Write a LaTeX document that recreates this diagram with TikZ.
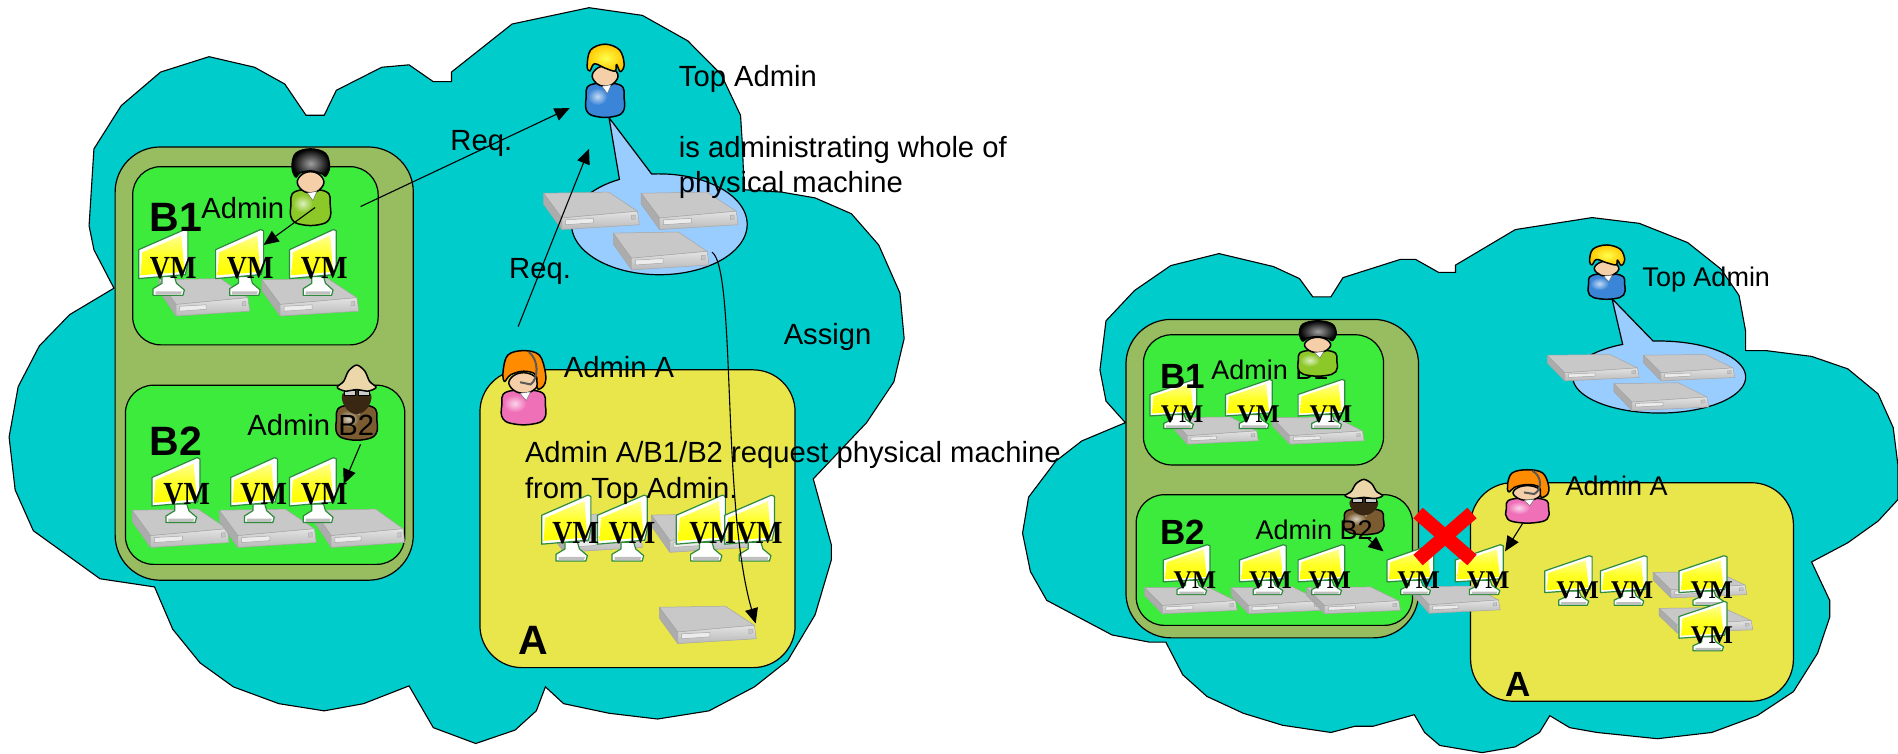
\documentclass[tikz,border=0pt]{standalone}
\usepackage{fontspec}
\setmainfont{Liberation Sans}
\newfontfamily\vmfont{Liberation Serif}
\usetikzlibrary{arrows.meta}
\definecolor{cloudc}{HTML}{00CCCC}
\definecolor{olivec}{HTML}{97BD60}
\definecolor{greenc}{HTML}{3CEB3C}
\definecolor{yellowc}{HTML}{E8E64A}
\definecolor{bluec}{HTML}{99CCFF}
\definecolor{srvtop}{HTML}{C8C8C8}
\definecolor{skinc}{HTML}{F5CFA8}
\definecolor{bodyblue}{HTML}{3A85D8}
\definecolor{bodygreen}{HTML}{8CC828}
\definecolor{bodybrown}{HTML}{7A5C30}
\definecolor{bodypink}{HTML}{F070B8}
\definecolor{frameg}{HTML}{2E8B3C}
\tikzset{
  cloudshape/.style={draw=black,line width=1.1pt,fill=cloudc},
  boxolive/.style={draw=black,line width=1.2pt,fill=olivec,rounded corners=45pt},
  boxgreen/.style={draw=black,line width=1.2pt,fill=greenc,rounded corners=28pt},
  boxyellow/.style={draw=black,line width=1.2pt,fill=yellowc,rounded corners=42pt},
  callout/.style={draw=black,line width=1.2pt,fill=bluec},
  conn/.style={draw=black,line width=1.1pt,-{Triangle[length=15pt,width=13pt]}},
  lab/.style={anchor=base west,inner sep=0pt,font=\fontsize{29.2}{30}\selectfont},
  labr/.style={anchor=base west,inner sep=0pt,font=\fontsize{27}{28}\selectfont},
  bigl/.style={anchor=base west,inner sep=0pt,font=\fontsize{41}{43}\selectfont\bfseries},
  bigr/.style={anchor=base west,inner sep=0pt,font=\fontsize{35}{37}\selectfont\bfseries},
  vml/.style={inner sep=0pt,font=\fontsize{28}{30}\selectfont\vmfont\bfseries,transform shape,yscale=1.15},
  vmr/.style={inner sep=0pt,font=\fontsize{25.5}{28}\selectfont\vmfont\bfseries,transform shape},
  outl/.style={draw=black,line width=1.5pt,line join=round},
}
% server: x y w h
\newcommand{\srv}[4]{\begin{scope}[shift={(#1,#2)},xscale=#3,yscale=#4]
  \fill[gray!65] (0,.03)--(.19,.69)--(.19,1)--(0,.32)--cycle;
  \draw[gray!70,line width=.5pt,fill=srvtop] (0,.03)--(.68,0)--(.98,.51)--(.19,.69)--cycle;
  \shade[top color=gray!22,bottom color=gray!55] (.19,.69)--(.98,.51)--(1,.87)--(.19,1)--cycle;
  \draw[gray!70,line width=.5pt] (0,.03)--(.19,.69)--(.19,1)--(1,.87)--(.98,.51)--(.19,.69) (0,.03)--(0,.32)--(.19,1);
  \draw[gray!70,line width=.5pt,fill=gray!15] (.23,.74)--(.52,.70)--(.52,.82)--(.23,.87)--cycle;
  \draw[gray!70,line width=.4pt,fill=gray!45] (.92,.62)--(.96,.61)--(.96,.72)--(.92,.73)--cycle;
\end{scope}}
% monitor: x y w h
\newcommand{\mon}[4]{\begin{scope}[shift={(#1,#2)},xscale=#3,yscale=#4]
  \draw[frameg,line width=1.2pt,fill=white,line join=round] (.48,.72)--(.73,.72)--(.77,.82)--(.93,.92)--(.9,1)--(.3,1)--(.3,.90)--(.48,.82)--cycle;
  \fill[gray!50] (.35,.94)--(.88,.94)--(.86,.99)--(.35,.99)--cycle;
  \draw[frameg,line width=1.2pt,fill=white,line join=round] (.01,.32)--(.94,.02)--(1,.04)--(1,.53)--(.95,.69)--(.01,.75)--cycle;
  \shade[top color=white!55!yellow,bottom color=yellow,middle color=yellow!85!white] (.08,.36)--(.87,.11)--(.93,.65)--(.05,.70)--cycle;
\end{scope}}
% person: x y w h bodycolour headgear
\newcommand{\person}[6]{\begin{scope}[shift={(#1,#2)},xscale=#3,yscale=#4]
  \draw[outl,fill=#5] plot[smooth cycle,tension=.7] coordinates {(.12,.56) (0,.75) (.03,.93) (.3,1) (.7,1) (.97,.93) (1,.75) (.88,.56)};
  \shade[inner color=white!70!#5,outer color=#5] (.3,.72) circle [x radius=.26,y radius=.12];
  \draw[outl,fill=skinc] plot[smooth cycle,tension=.8] coordinates {(.2,.38) (.22,.51) (.5,.58) (.78,.51) (.8,.38) (.5,.3)};
  \fill[white,draw=black!60,line width=.4pt] (.42,.58)--(.66,.56)--(.56,.68)--cycle;
  #6
\end{scope}}
\newcommand{\hairyel}{\draw[outl,inner color=yellow!70!white,outer color=orange!45!yellow] plot[smooth cycle,tension=.6] coordinates {(.03,.30) (.12,.08) (.5,0) (.88,.08) (1,.28) (.9,.38) (.8,.28) (.76,.37) (.5,.33) (.22,.27) (.1,.37)};}
\newcommand{\hairblk}{\draw[outl,inner color=gray!75,outer color=black] plot[smooth cycle,tension=.6] coordinates {(.03,.24) (.12,.06) (.5,0) (.88,.06) (.98,.24) (.88,.36) (.8,.33) (.5,.29) (.22,.32) (.12,.37)};}
\newcommand{\hairhat}{\fill[black!70!brown] plot[smooth cycle,tension=.7] coordinates {(.2,.36) (.2,.55) (.5,.66) (.8,.55) (.8,.36)};
  \fill[gray!40,draw=black,line width=.4pt] (.2,.34) rectangle (.46,.41) (.54,.34) rectangle (.82,.41);
  \draw[outl,fill=brown!35!white!90!yellow] plot[smooth cycle,tension=.5] coordinates {(.3,.08) (.5,0) (.7,.08) (.82,.22) (.98,.30) (.78,.35) (.5,.33) (.22,.35) (.02,.30) (.18,.22)};}
\newcommand{\hairorg}{\draw[outl,fill=orange!90!yellow] plot[smooth cycle,tension=.6] coordinates {(.03,.28) (.14,.06) (.5,0) (.86,.06) (1,.30) (.98,.46) (.82,.52) (.78,.33) (.5,.28) (.2,.33) (.06,.42)};
  \draw[gray!70!black,line width=2pt] (.62,.02) .. controls (.85,.12) and (.85,.38) .. (.66,.46) -- (.42,.43);}
\begin{document}
\begin{tikzpicture}[x=1pt,y=-1pt]
\useasboundingbox (0,0) rectangle (1898,753);
% ===== LEFT =====
\begin{scope}[x=.606pt,y=-.4803pt]
\draw[cloudshape] (972,16)--(1060,32)--(1135,85)--(1190,155)--(1222,240)--(1225,300)--(1228,395)--(1290,400)--(1345,412)--(1405,445)--(1450,510)--(1485,610)--(1492,705)--(1475,795)--(1430,880)--(1342,997)--(1372,1135)--(1372,1165)--(1345,1280)--(1300,1375)--(1245,1430)--(1170,1480)--(1085,1497)--(1005,1485)--(930,1465)--(900,1430)--(885,1480)--(850,1520)--(785,1548)--(715,1515)--(675,1428)--(600,1465)--(535,1480)--(460,1465)--(385,1430)--(330,1380)--(285,1310)--(255,1222)--(165,1205)--(55,1105)--(25,1020)--(15,910)--(30,805)--(65,720)--(115,655)--(188,600)--(155,520)--(147,470)--(155,310)--(200,220)--(265,150)--(345,118)--(420,140)--(470,175)--(505,240)--(535,240)--(555,188)--(630,140)--(675,135)--(715,170)--(745,170)--(745,150)--(845,50)--cycle;
\draw[boxolive] (190,306) rectangle (682,1208);
\draw[boxgreen] (219,347) rectangle (624,718);
\draw[boxgreen] (207,802) rectangle (668,1175);
\draw[boxyellow] (792,770) rectangle (1312,1390);
\draw[callout] (1005,245) -- plot[domain=95:-243,samples=90] ({1088+145*cos(\x)},{467-105*sin(\x)}) -- cycle;
% servers
\srv{897}{400}{158}{78}\srv{1058}{400}{160}{78}\srv{1012}{483}{158}{79}
\srv{262}{580}{150}{78}\srv{432}{580}{160}{78}
\srv{218}{1060}{160}{80}\srv{362}{1060}{160}{80}\srv{518}{1060}{150}{80}
\srv{900}{1070}{160}{80}\srv{1075}{1070}{160}{80}
\srv{1088}{1262}{160}{78}
% monitors
\mon{228}{475}{82}{140}\mon{355}{475}{80}{140}\mon{477}{475}{78}{140}
\mon{250}{950}{80}{138}\mon{380}{950}{78}{138}\mon{477}{950}{78}{138}
\mon{893}{1028}{82}{140}\mon{985}{1028}{83}{140}\mon{1115}{1028}{82}{140}\mon{1195}{1028}{83}{140}
% VM labels
\node[vml] (lvm1) at (286,558) {VM};\node[vml] (lvm2) at (413,558) {VM};\node[vml] (lvm3) at (535,558) {VM};
\node[vml] (lvm4) at (308,1028) {VM};\node[vml] (lvm5) at (435,1028) {VM};\node[vml] (lvm6) at (535,1028) {VM};
\node[vml] (lvm7) at (950,1110) {VM};\node[vml] (lvm8) at (1043,1110) {VM};\node[vml] (lvm9) at (1176,1110) {VM};\node[vml] (lvm10) at (1253,1110) {VM};
% people
\person{967}{92}{63}{151}{bodyblue}{\hairyel}
\person{480}{310}{65}{158}{bodygreen}{\hairblk}
\person{555}{760}{67}{155}{bodybrown}{\hairhat}
\person{828}{730}{72}{153}{bodypink}{\hairorg}
% text
\node[lab] (ltop) at (1120,180) {Top Admin};
\node[lab] (lis) at (1120,327) {is administrating whole of};
\node[lab] (lphy) at (1120,400) {physical machine};
\node[lab] (lreq1) at (743,313) {Req.};
\node[lab] (lreq2) at (840,580) {Req.};
\node[lab] (lassign) at (1293,718) {Assign};
\node[lab] (ladmA) at (930,785) {Admin A};
\node[lab] (lreqa) at (866,963) {Admin A/B1/B2 request physical machine};
\node[lab] (lreqb) at (866,1037) {from Top Admin.};
\node[lab] (ladmB1) at (332,455) {Admin};
\node[lab] (ladmB2) at (408,907) {Admin B2};
\node[bigl] (lB1) at (247,482) {B1};
\node[bigl] (lB2) at (247,948) {B2};
\node[bigl] (lA) at (855,1363) {A};
% connectors
\coordinate (lc1) at (595,430);\coordinate (lc2) at (940,225);
\coordinate (lc3) at (855,680);\coordinate (lc4) at (972,310);
\coordinate (lc5) at (520,432);\coordinate (lc6) at (435,510);
\coordinate (lc7) at (595,925);\coordinate (lc8) at (567,1008);
\coordinate (lc9) at (1175,525);\coordinate (lc10) at (1247,1298);
\draw[conn] (lc1)--(lc2);
\draw[conn] (lc3)--(lc4);
\draw[conn] (lc5)--(lc6);
\draw[conn] (lc7)--(lc8);
\draw[conn] (lc9) .. controls (1215,560) and (1190,1050) .. (lc10);
\end{scope}
% ===== RIGHT =====
\begin{scope}[shift={(950,0)},x=.6046pt,y=-.4803pt]
\draw[cloudshape] (1062,453)--(1140,465)--(1220,505)--(1275,560)--(1305,615)--(1316,690)--(1316,730)--(1350,730)--(1425,742)--(1485,768)--(1535,820)--(1560,890)--(1568,970)--(1568,1040)--(1535,1085)--(1485,1130)--(1425,1170)--(1455,1250)--(1455,1285)--(1435,1360)--(1395,1440)--(1335,1490)--(1260,1525)--(1170,1538)--(1070,1525)--(1025,1515)--(992,1490)--(975,1525)--(935,1555)--(880,1567)--(810,1552)--(785,1525)--(768,1488)--(700,1512)--(670,1512)--(630,1525)--(550,1510)--(485,1485)--(425,1450)--(385,1405)--(357,1337)--(330,1337)--(268,1322)--(160,1250)--(133,1190)--(120,1110)--(130,1035)--(175,960)--(218,918)--(290,880)--(258,835)--(248,770)--(258,668)--(305,605)--(365,553)--(445,528)--(535,555)--(578,580)--(600,618)--(630,618)--(650,578)--(745,540)--(770,540)--(808,567)--(836,567)--(836,552)--(935,478)--cycle;
\draw[boxolive] (291,665) rectangle (775,1328);
\draw[boxgreen] (320,697) rectangle (717,968);
\draw[boxgreen] (308,1030) rectangle (765,1302);
\draw[boxyellow] (861,1005) rectangle (1395,1460);
\draw[callout] (1095,622) -- plot[domain=94:-245,samples=90] ({1173+143*cos(\x)},{785-75*sin(\x)}) -- cycle;
% servers
\srv{988}{738}{152}{55}\srv{1147}{738}{151}{55}\srv{1098}{797}{157}{58}
\srv{365}{868}{145}{57}\srv{533}{868}{152}{57}
\srv{322}{1222}{153}{56}\srv{465}{1222}{150}{56}\srv{590}{1222}{155}{56}
\srv{765}{1220}{145}{57}
\srv{1163}{1190}{155}{55}\srv{1173}{1265}{155}{53}
% monitors
\mon{330}{788}{78}{104}\mon{455}{788}{78}{104}\mon{575}{788}{78}{104}
\mon{352}{1132}{78}{106}\mon{478}{1132}{78}{106}\mon{575}{1132}{78}{106}
\mon{722}{1132}{78}{106}\mon{835}{1132}{80}{106}
\mon{983}{1155}{79}{105}\mon{1075}{1155}{78}{105}\mon{1205}{1155}{80}{105}\mon{1205}{1250}{80}{105}
% VM
\node[vmr] (rvm1) at (384,862) {VM};\node[vmr] (rvm2) at (510,862) {VM};\node[vmr] (rvm3) at (630,862) {VM};
\node[vmr] (rvm4) at (405,1208) {VM};\node[vmr] (rvm5) at (530,1208) {VM};\node[vmr] (rvm6) at (628,1208) {VM};
\node[vmr] (rvm7) at (775,1208) {VM};\node[vmr] (rvm8) at (890,1208) {VM};
\node[vmr] (rvm9) at (1038,1230) {VM};\node[vmr] (rvm10) at (1128,1230) {VM};\node[vmr] (rvm11) at (1260,1230) {VM};\node[vmr] (rvm12) at (1260,1322) {VM};
% text under people
\node[labr] (radmB1) at (432,790) {Admin B1};
% people
\person{1056}{510}{60}{112}{bodyblue}{\hairyel}
\person{576}{668}{64}{114}{bodygreen}{\hairblk}
\person{652}{998}{65}{114}{bodybrown}{\hairhat}
\person{920}{978}{70}{110}{bodypink}{\hairorg}
% text
\node[labr] (rtop) at (1145,597) {Top Admin};
\node[labr] (radmA) at (1018,1032) {Admin A};
\node[labr] (radmB2) at (505,1123) {Admin B2};
\node[bigr] (rB1) at (347,808) {B1};
\node[bigr] (rB2) at (347,1133) {B2};
\node[bigr] (rA) at (918,1450) {A};
% connectors
\coordinate (rc1) at (690,1120);\coordinate (rc2) at (717,1148);
\coordinate (rc3) at (947,1090);\coordinate (rc4) at (918,1148);
\draw[conn] (rc1)--(rc2);
\draw[conn] (rc3)--(rc4);
\end{scope}
% red cross
\coordinate (xa) at (1418,513);\coordinate (xb) at (1472,560);
\coordinate (xc) at (1472,513);\coordinate (xd) at (1418,560);
\draw[red,line width=14pt] (xa)--(xb) (xc)--(xd);
\end{tikzpicture}
\end{document}
